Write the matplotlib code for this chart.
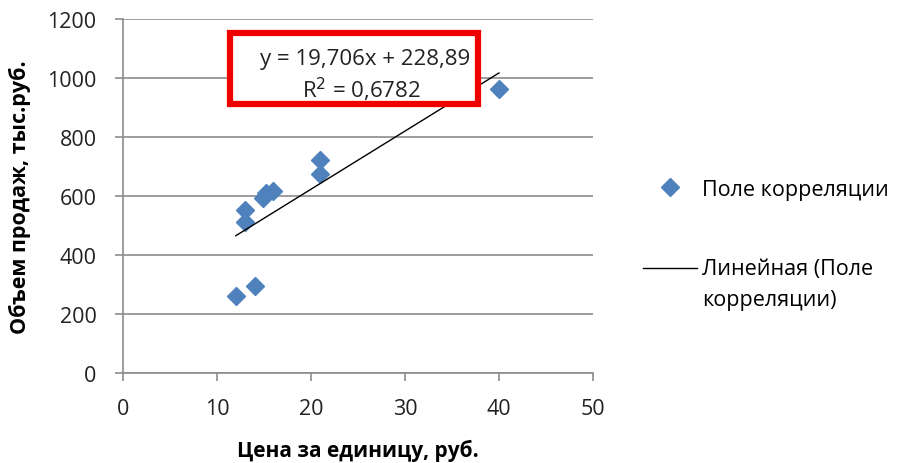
import numpy as np
import matplotlib.pyplot as plt
from matplotlib.lines import Line2D
from matplotlib.patches import Rectangle

plt.rcParams['font.family'] = ['Open Sans', 'DejaVu Sans']

# Поле корреляции: цена за единицу (руб.) и объем продаж (тыс. руб.)
price = [12, 14, 13, 13, 14.9, 15.2, 16, 21, 21, 40]
sales = [262, 296, 513, 554, 593, 609, 616, 675, 722, 963]

# линейный тренд (как в Excel)
slope = 19.706
intercept = 228.89
eq_text = 'y = 19,706x + 228,89'
r2_text = 'R$^2$ = 0,6782'

x_ticks = [0, 10, 20, 30, 40, 50]
y_ticks = [0, 200, 400, 600, 800, 1000, 1200]

fig = plt.figure(figsize=(9.01, 4.64), dpi=100)
ax = fig.add_axes([123 / 901, 1 - 374 / 464, 470 / 901, 354 / 464])

blue = '#4F81BD'
grey = '#8C8C8C'
txt = '#222222'

ax.plot(price, sales, linestyle='none', marker='D', markersize=9.5,
        color=blue, markeredgecolor=blue, zorder=3)

xt = np.array([min(price), max(price)])
ax.plot(xt, slope * xt + intercept, color='black', linewidth=1, zorder=4)

ax.set_xlim(0, 50)
ax.set_ylim(0, 1200)
ax.set_xticks(x_ticks)
ax.set_yticks(y_ticks)
ax.grid(axis='y', color=grey, linewidth=1.2)
ax.set_axisbelow(True)
for s in ['top', 'right']:
    ax.spines[s].set_visible(False)
for s in ['left', 'bottom']:
    ax.spines[s].set_color(grey)
    ax.spines[s].set_linewidth(1.2)
ax.tick_params(axis='both', color=grey, length=6, width=1.2, labelsize=15.5,
               labelcolor=txt)
ax.tick_params(axis='x', pad=12)
ax.tick_params(axis='y', pad=13)

ax.set_xlabel('Цена за единицу, руб.', fontsize=15, fontweight='bold', labelpad=14)
ax.set_ylabel('Объем продаж, тыс.руб.', fontsize=15.5, fontweight='bold', labelpad=12)

# подпись линии тренда в красной рамке
fig.patches.append(Rectangle((230 / 901, 1 - 105 / 464), 248 / 901, 71 / 464,
                             transform=fig.transFigure, fill=True,
                             facecolor='white', edgecolor='#EE0000',
                             linewidth=4.5, zorder=5))
fig.text(470 / 901, 1 - 59 / 464, eq_text, ha='right', va='center',
         fontsize=16, color=txt, zorder=6)
fig.text(361 / 901, 1 - 90 / 464, r2_text, ha='center', va='center',
         fontsize=16, color=txt, zorder=6)

handles = [
    Line2D([], [], linestyle='none', marker='D', markersize=9.5, color=blue),
    Line2D([], [], color='black', linewidth=1),
]
labels = ['Поле корреляции', 'Линейная (Поле\nкорреляции)']
leg = fig.legend(handles, labels, loc='upper left',
                 bbox_to_anchor=(643 / 901, 1 - 180 / 464),
                 frameon=False, fontsize=15.5, handlelength=2.5, handletextpad=0.25,
                 labelspacing=2.7, borderaxespad=0, borderpad=0)
leg.get_texts()[1].set_linespacing(1.6)
# линия тренда в легенде — на уровне первой строки подписи
h = leg.legend_handles[1]
h.set_ydata(np.asarray(h.get_ydata()) + 12)

fig.savefig('out.png', dpi=100)
